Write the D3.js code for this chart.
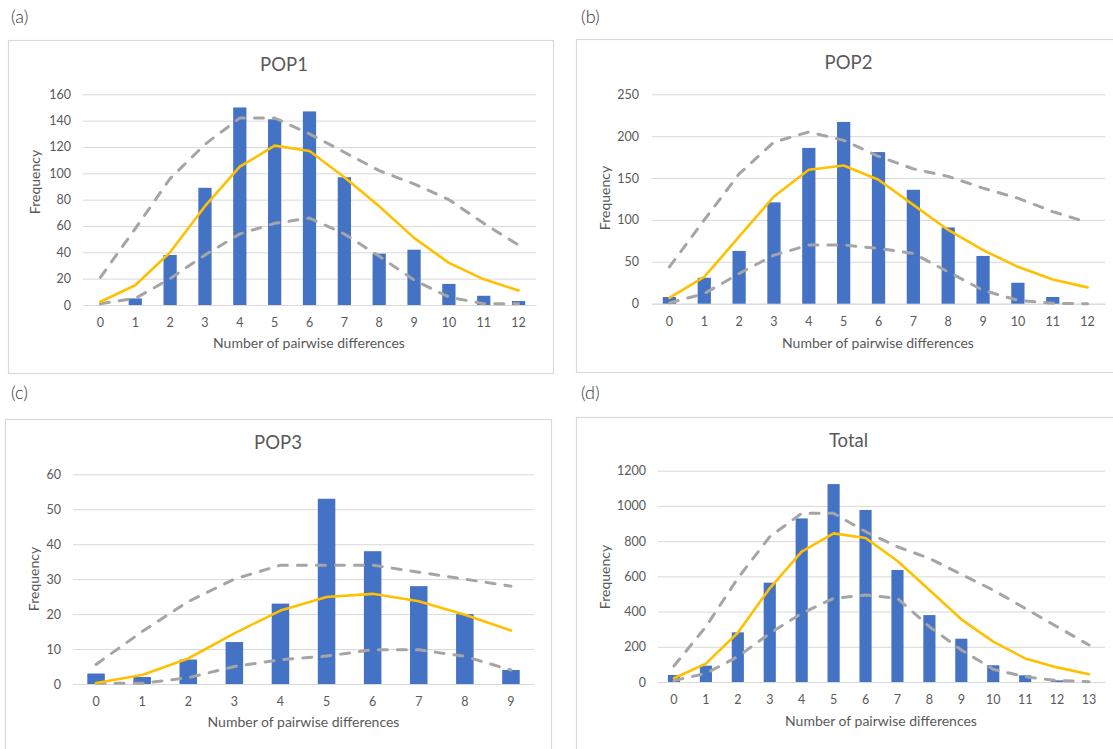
<!DOCTYPE html>
<html>
<head>
<meta charset="utf-8">
<script src="https://cdn.jsdelivr.net/npm/d3@7"></script>
<style>
  html, body { margin: 0; padding: 0; background: #fff; }
  svg { display: block; font-family: Lato, "Liberation Sans", sans-serif; }
</style>
</head>
<body>
<svg id="chart" width="1113" height="749"></svg>
<script>
// ---------- DATA ----------
const pop1Categories = ["0","1","2","3","4","5","6","7","8","9","10","11","12"];
const pop1Observed = [0, 5, 38, 89, 150, 141, 147, 97, 39, 42, 16, 7, 3];
const pop1Expected = [2.5, 15, 40, 75, 105, 121, 117, 97, 75, 51, 32, 19.5, 11];
const pop1Upper = [21, 58, 96, 122, 142, 142, 130, 116, 102, 92, 80, 62, 45.5];
const pop1Lower = [1, 5, 20, 38, 54, 62, 66, 54, 37, 19, 6, 1, 1];
const pop1Ticks = [0, 20, 40, 60, 80, 100, 120, 140, 160];

const pop2Categories = ["0","1","2","3","4","5","6","7","8","9","10","11","12"];
const pop2Observed = [8, 31, 63, 121, 186, 217, 181, 136, 91, 57, 25, 8, 0];
const pop2Expected = [7, 32, 80, 128, 160, 165, 148, 118, 88, 64, 44, 29, 19.5];
const pop2Upper = [44, 100, 155, 193, 205, 195, 176, 161, 152, 138, 126, 110, 97];
const pop2Lower = [1, 12, 36, 58, 70, 70, 66, 60, 38, 16, 4, 0.5, 0];
const pop2Ticks = [0, 50, 100, 150, 200, 250];

const pop3Categories = ["0","1","2","3","4","5","6","7","8","9"];
const pop3Observed = [3, 2, 7, 12, 23, 53, 38, 28, 20, 4];
const pop3Expected = [0.3, 2.6, 7.3, 14.5, 21, 24.9, 25.8, 23.7, 19.8, 15.3];
const pop3Upper = [5.6, 15, 23.6, 30, 34, 34, 34, 32, 30, 28];
const pop3Lower = [0.2, 0.2, 1.8, 5, 6.9, 8, 9.8, 9.8, 7.9, 4];
const pop3Ticks = [0, 10, 20, 30, 40, 50, 60];

const totalCategories = ["0","1","2","3","4","5","6","7","8","9","10","11","12","13"];
const totalObserved = [40, 93, 282, 564, 929, 1124, 977, 636, 380, 246, 95, 38, 9, 0];
const totalExpected = [21, 104, 280, 532, 740, 844, 818, 687, 522, 356, 229, 134, 83, 44];
const totalUpper = [91, 314, 589, 825, 958, 958, 854, 768, 702, 611, 522, 418, 314, 210];
const totalLower = [8, 49, 144, 276, 390, 475, 494, 475, 314, 182, 72, 30, 8, 2];
const totalTicks = [0, 200, 400, 600, 800, 1000, 1200];

const panelLabels = ["(a)", "(b)", "(c)", "(d)"];
const panelTitles = ["POP1", "POP2", "POP3", "Total"];
const xAxisTitle = "Number of pairwise differences";
const yAxisTitle = "Frequency";

// ---------- LAYOUT ----------
const panels = [
  { label: panelLabels[0], title: panelTitles[0], cats: pop1Categories, obs: pop1Observed, exp: pop1Expected, up: pop1Upper, lo: pop1Lower, ticks: pop1Ticks,
    lab: [11, 17], box: [8, 40, 553, 373], plot: [83, 94.3, 536, 305], titleXY: [284, 65], xtY: 323, xTitle: [309, 343], yTitle: [35, 182], yTickX: 71 },
  { label: panelLabels[1], title: panelTitles[1], cats: pop2Categories, obs: pop2Observed, exp: pop2Expected, up: pop2Upper, lo: pop2Lower, ticks: pop2Ticks,
    lab: [581, 17], box: [576, 39, 1125, 372], plot: [652, 94.3, 1105, 303.7], titleXY: [848.5, 63], xtY: 322, xTitle: [878, 343], yTitle: [605, 198], yTickX: 639 },
  { label: panelLabels[2], title: panelTitles[2], cats: pop3Categories, obs: pop3Observed, exp: pop3Expected, up: pop3Upper, lo: pop3Lower, ticks: pop3Ticks,
    lab: [11, 393], box: [5, 419, 551, 760], plot: [73, 474.3, 534, 684], titleXY: [278, 443], xtY: 702, xTitle: [303.5, 722.5], yTitle: [34, 579], yTickX: 61 },
  { label: panelLabels[3], title: panelTitles[3], cats: totalCategories, obs: totalObserved, exp: totalExpected, up: totalUpper, lo: totalLower, ticks: totalTicks,
    lab: [581, 393], box: [576, 417, 1125, 760], plot: [658, 470.7, 1105, 682], titleXY: [848.5, 441], xtY: 700, xTitle: [881, 721], yTitle: [605, 577], yTickX: 646 }
];

const svg = d3.select("#chart");
const textColor = "#595959";
const gridColor = "#D9D9D9";

panels.forEach(p => {
  const g = svg.append("g");

  // panel label
  g.append("text").attr("x", p.lab[0]).attr("y", p.lab[1]).attr("dy", "0.35em")
    .attr("font-size", 18).attr("font-weight", 300).attr("fill", "#333").text(p.label);

  // chart border
  g.append("rect").attr("x", p.box[0] + 0.5).attr("y", p.box[1] + 0.5)
    .attr("width", p.box[2] - p.box[0]).attr("height", p.box[3] - p.box[1])
    .attr("fill", "#fff").attr("stroke", gridColor).attr("stroke-width", 1.2);

  const [x0, y0, x1, y1] = p.plot;
  const maxTick = p.ticks[p.ticks.length - 1];
  const y = d3.scaleLinear().domain([0, maxTick]).range([y1, y0]);
  const x = d3.scaleBand().domain(p.cats).range([x0, x1]).paddingInner(0.62).paddingOuter(0.31);
  const cx = c => x(c) + x.bandwidth() / 2;

  // gridlines + y labels via axis
  const yAxis = d3.axisLeft(y).tickValues(p.ticks).tickSize(-(x1 - x0)).tickPadding(0).tickFormat(d3.format("d"));
  const ya = g.append("g").attr("transform", `translate(${x0},0)`).call(yAxis);
  ya.select(".domain").remove();
  ya.selectAll(".tick line").attr("stroke", gridColor).attr("stroke-width", 1);
  ya.selectAll(".tick text").attr("x", p.yTickX - x0).attr("fill", textColor)
    .attr("font-size", 12.5).attr("font-family", "Lato, sans-serif").attr("text-anchor", "end");

  // x labels via axis
  const xAxis = d3.axisBottom(x).tickSize(0).tickPadding(0);
  const xa = g.append("g").attr("transform", `translate(0,${y1})`).call(xAxis);
  xa.select(".domain").attr("stroke", gridColor);
  xa.selectAll(".tick text").attr("y", p.xtY - y1).attr("dy", "0.35em").attr("fill", textColor)
    .attr("font-size", 12.5).attr("font-family", "Lato, sans-serif");

  // bars
  g.append("g").selectAll("rect").data(p.cats.map((c, i) => ({ c, v: p.obs[i] }))).join("rect")
    .attr("x", d => x(d.c)).attr("width", x.bandwidth())
    .attr("y", d => y(d.v)).attr("height", d => y(0) - y(d.v))
    .attr("fill", "#4472C4");

  const line = d3.line().x(d => cx(d.c)).y(d => y(d.v));
  const mk = arr => p.cats.map((c, i) => ({ c, v: arr[i] }));

  // dashed gray bounds
  [p.up, p.lo].forEach(arr => {
    g.append("path").datum(mk(arr)).attr("d", line).attr("fill", "none")
      .attr("stroke", "#A5A5A5").attr("stroke-width", 3)
      .attr("stroke-dasharray", "9,10").attr("stroke-linecap", "round").attr("stroke-linejoin", "round");
  });
  // expected line
  g.append("path").datum(mk(p.exp)).attr("d", line).attr("fill", "none")
    .attr("stroke", "#FFC000").attr("stroke-width", 2.6)
    .attr("stroke-linecap", "round").attr("stroke-linejoin", "round");

  // titles
  g.append("text").attr("x", p.titleXY[0]).attr("y", p.titleXY[1]).attr("dy", "0.35em")
    .attr("text-anchor", "middle").attr("font-size", 18.5).attr("fill", textColor).text(p.title);
  g.append("text").attr("x", p.xTitle[0]).attr("y", p.xTitle[1]).attr("dy", "0.35em")
    .attr("text-anchor", "middle").attr("font-size", 14).attr("fill", textColor).text(xAxisTitle);
  g.append("text").attr("transform", `translate(${p.yTitle[0]},${p.yTitle[1]}) rotate(-90)`)
    .attr("dy", "0.35em").attr("text-anchor", "middle").attr("font-size", 14).attr("fill", textColor).text(yAxisTitle);
});
</script>
</body>
</html>
